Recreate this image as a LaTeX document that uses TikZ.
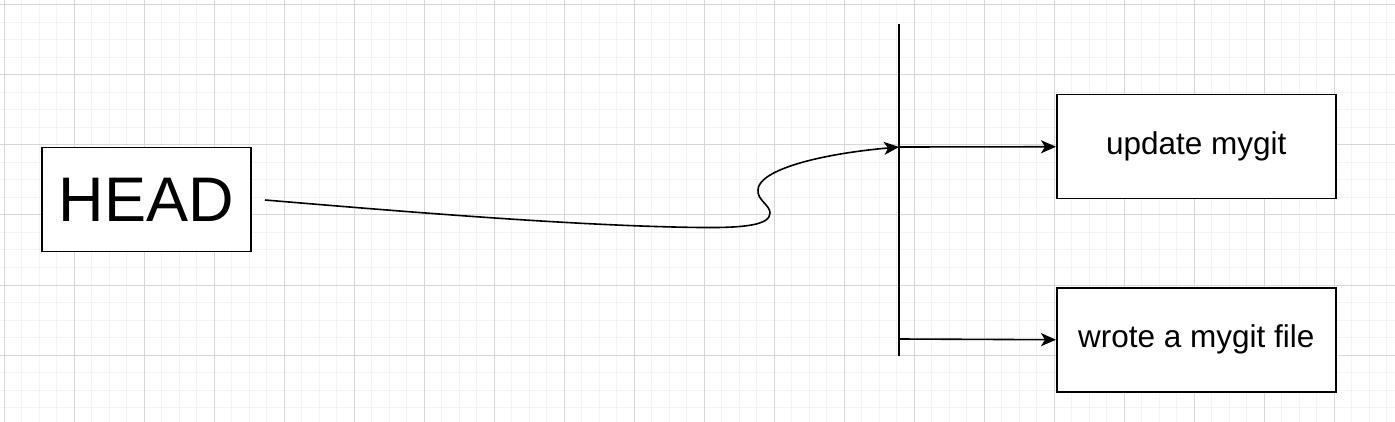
\documentclass[tikz,border=0pt]{standalone}
\usepackage{fontspec}
\setmainfont{Liberation Sans}
\usetikzlibrary{arrows.meta}
\definecolor{gmin}{HTML}{F3F3F3}
\definecolor{gmaj}{HTML}{D6D6D6}
\begin{document}
\begin{tikzpicture}[x=1pt,y=-1pt,
  box/.style={draw=black, line width=1.5pt, fill=white, inner sep=0pt, anchor=north west,
    minimum width=279pt, minimum height=104pt, font=\fontsize{31.5}{36}\selectfont},
  conn/.style={draw=black, line width=1.6pt},
  tip/.style={-{Stealth[length=15pt,width=13pt,inset=4pt]}}]
\fill[white] (0,0) rectangle (1395,422);
\useasboundingbox (0,0) rectangle (1395,422);
% grid
\foreach \i in {0,...,79} \draw[gmin, line width=1pt] ({4+17.5*\i},0) -- ({4+17.5*\i},422);
\foreach \i in {0,...,23} \draw[gmin, line width=1pt] (0,{5+17.5*\i}) -- (1395,{5+17.5*\i});
\foreach \i in {0,...,19} \draw[gmaj, line width=1pt] ({4+70*\i},0) -- ({4+70*\i},422);
\foreach \i in {0,...,5} \draw[gmaj, line width=1pt] (0,{5+70*\i}) -- (1395,{5+70*\i});
% nodes
\node[box, minimum width=209pt, minimum height=104pt, font=\fontsize{63}{70}\selectfont] (head) at (41,147) {HEAD};
\node[box] (upd) at (1056,94) {update mygit};
\node[box] (wrote) at (1056,287) {wrote a mygit file};
% branch line
\coordinate (top) at (899,24);
\coordinate (bot) at (899,356);
\coordinate (j1) at (899,147);
\coordinate (j2) at (899,339);
\coordinate (start) at (265,200);
\draw[conn, line width=2pt] (top) -- (bot);
\draw[conn, tip] (j1) -- (upd.west);
\draw[conn, tip] (j2) -- (wrote.west);
\draw[conn, tip] (start) .. controls (420,213) and (580,226) .. (700,227.5)
  .. controls (745,228) and (770,225) .. (770,213)
  .. controls (770,205) and (757,200) .. (758,190)
  .. controls (758,172) and (810,155) .. (j1);
\end{tikzpicture}
\end{document}
